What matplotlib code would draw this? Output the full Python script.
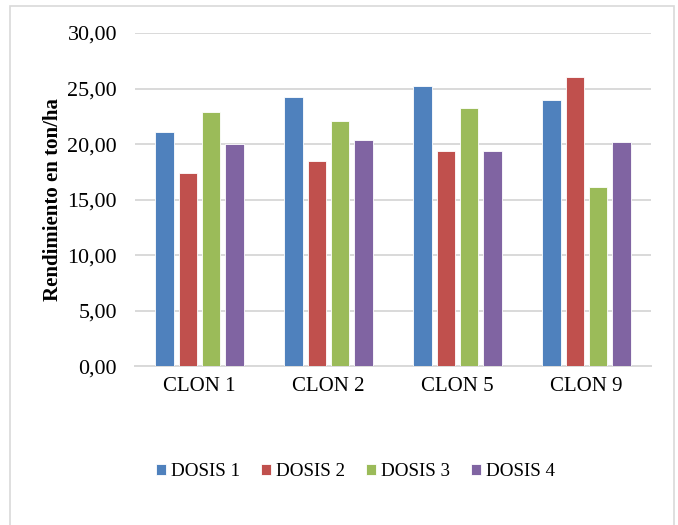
import numpy as np
import matplotlib.pyplot as plt
from matplotlib.patches import Rectangle

plt.rcParams['font.family'] = ['Liberation Serif', 'DejaVu Serif']

clones = ["CLON 1", "CLON 2", "CLON 5", "CLON 9"]
series = ["DOSIS 1", "DOSIS 2", "DOSIS 3", "DOSIS 4"]
dosis_1 = [21.09, 24.24, 25.26, 23.94]
dosis_2 = [17.37, 18.45, 19.35, 26.04]
dosis_3 = [22.92, 22.11, 23.25, 16.17]
dosis_4 = [20.04, 20.37, 19.35, 20.22]
colors = ["#4F81BD", "#C0504D", "#9BBB59", "#8064A2"]

W, H = 678, 525
fig = plt.figure(figsize=(W / 100, H / 100), dpi=100)
ax = fig.add_axes([135 / W, 1 - 366.3 / H, (651 - 135) / W, (366.3 - 33) / H])

x = np.arange(len(clones))
bar_w = 0.142
step = 0.181
for i, (name, vals) in enumerate(zip(series, [dosis_1, dosis_2, dosis_3, dosis_4])):
    ax.bar(x + (i - 1.5) * step, vals, width=bar_w, color=colors[i],
           edgecolor="white", linewidth=0.6, label=name, zorder=3)

ax.set_xlim(-0.5, len(clones) - 0.5)
ax.set_ylim(0, 30)
yticks = np.arange(0, 31, 5)
ax.set_yticks(yticks)
ax.set_yticklabels([("%.2f" % v).replace(".", ",") for v in yticks])
ax.set_xticks(x)
ax.set_xticklabels(clones)
ax.tick_params(axis="both", length=0)
ax.tick_params(axis="y", pad=13, labelsize=15.8)
ax.tick_params(axis="x", pad=8, labelsize=15)
ax.grid(axis="y", color="#D9D9D9", linewidth=1.4, zorder=0)
for side in ["top", "right", "left"]:
    ax.spines[side].set_visible(False)
ax.spines["bottom"].set_color("#D9D9D9")
ax.spines["bottom"].set_linewidth(1.4)

fig.text(53 / W, 1 - 200 / H, "Rendimiento en ton/ha", rotation=90,
         ha="center", va="center", fontsize=15, fontweight="bold")

fig.legend(loc="center", bbox_to_anchor=(355.5 / W, 1 - 472 / H), ncol=4,
           frameon=False, fontsize=13.7, handlelength=0.53, handleheight=0.53,
           handletextpad=0.27, columnspacing=1.1)

fig.patches.append(Rectangle((10 / W, -0.01), (674 - 10) / W, 1 - 6 / H + 0.01,
                             transform=fig.transFigure, fill=False,
                             edgecolor="#D9D9D9", linewidth=1.2))

fig.savefig("out.png", dpi=100)
